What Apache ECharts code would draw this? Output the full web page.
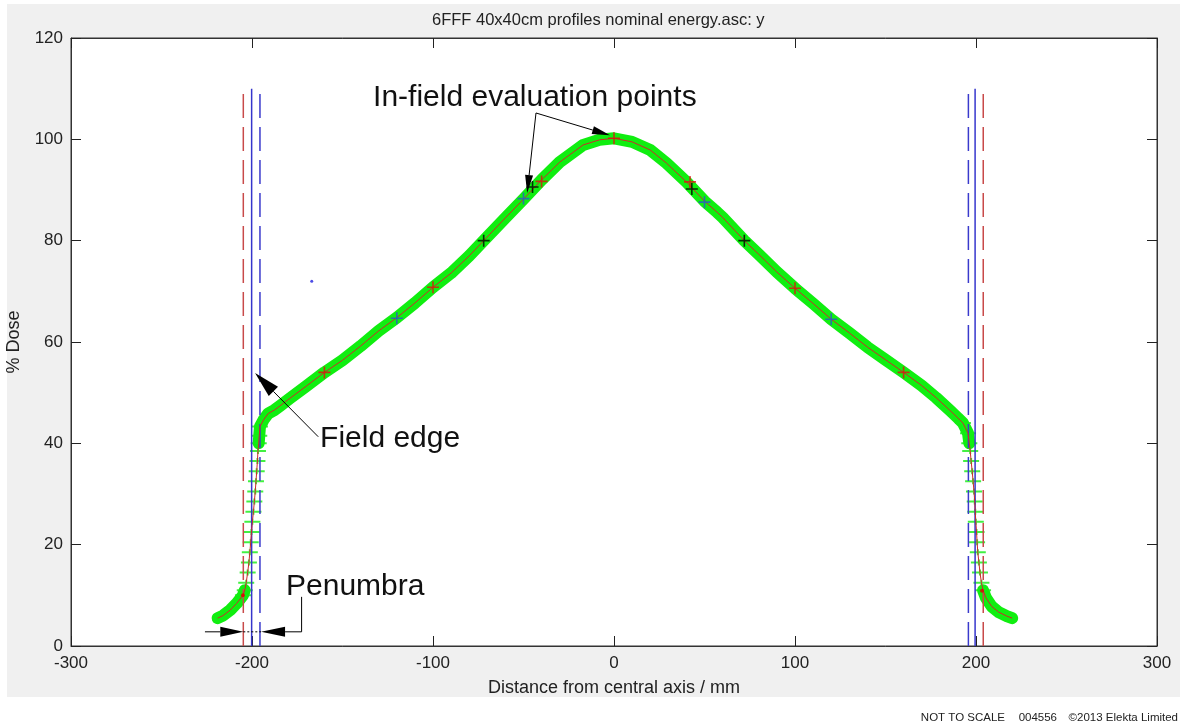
<!DOCTYPE html>
<html>
<head>
<meta charset="utf-8">
<title>6FFF 40x40cm profiles</title>
<script src="https://cdn.jsdelivr.net/npm/echarts@6/dist/echarts.min.js"></script>
<style>
  html, body { margin: 0; padding: 0; background: #fff; }
  #chart { width: 1180px; height: 727px; }
</style>
</head>
<body>
<div id="chart"></div>
<script>
const profileX = [-219, -216, -212, -208.5, -205, -204.0, -203.2, -202.4, -201.7, -201.2, -200.7, -200.3,
  -199.8, -199.2, -198.7, -198.2, -197.8, -197.4, -197.0, -196.7, -196.3, -196.0, -195.6, -193.5, -191,
  -187.5, -184.5, -179, -170, -160, -150, -140, -130, -120, -110, -100, -90, -80, -72, -60, -50, -40, -30,
  -17, -8, 0, 10, 20, 29, 40, 50, 57, 60, 72, 80, 90, 100, 110, 120, 130, 140, 150, 160, 170, 178, 185.6,
  190, 192.8, 195.6, 196.3, 196.8, 197.3, 197.9, 198.4, 198.9, 199.3, 199.6, 199.9, 200.3, 200.6, 201.0,
  201.6, 202.2, 203.0, 203.9, 205.5, 208.7, 212.5, 217, 220];
const profileY = [5.5, 6.0, 7.1, 8.4, 10.0, 11.0, 12.5, 14.5, 16.5, 18.5, 20.5, 22.5,
  24.5, 26.5, 28.5, 30.5, 32.5, 34.5, 36.5, 38.5, 40.0, 41.5, 43.3, 44.7, 45.9,
  46.6, 47.4, 48.9, 51.3, 54.0, 56.4, 59.2, 62.2, 64.8, 67.7, 70.8, 73.6, 77.0, 80.0, 84.5, 88.2, 92.0, 95.5,
  98.9, 99.9, 100.2, 99.5, 97.9, 95.3, 91.6, 87.8, 85.6, 84.6, 80.0, 77.3, 73.8, 70.6, 67.6, 64.5, 61.8, 59.0, 56.5, 54.0, 51.4, 49.0, 46.5,
  45.0, 44.0, 42.0, 40.0, 38.5, 36.5, 34.5, 32.5, 30.5, 28.5, 26.5, 24.5, 22.5, 20.5, 18.5,
  16.5, 14.5, 12.5, 11.0, 9.5, 7.8, 6.7, 5.9, 5.5];

// in-field evaluation points
const evalRedX = [-160, -100, -40, 0, 42, 100, 160];
const evalRedY = [54.0, 70.8, 91.7, 100.2, 91.6, 70.6, 54.0];
const evalBlueX = [-120, -50, 50, 120];
const evalBlueY = [64.7, 88.3, 87.6, 64.5];
const evalBlackX = [-72, -45, 43, 72];
const evalBlackY = [80.0, 90.6, 90.2, 80.0];
const edgeDotX = [-205, 203.3];
const edgeDotY = [10.0, 10.9];
const strayX = [-167];
const strayY = [72];

// field edge / penumbra limits (mm)
const redDashX = [-204.8, 204.0];
const blueDashX = [-195.6, 195.8];
const blueSolidX = [-200.2, 199.5];
const edgeLineTop = 110;

const xTicks = [-300, 300, 100];
const yTicks = [0, 120, 20];

const pts = profileX.map((x, i) => [x, profileY[i]]);
const zip = (xs, ys) => xs.map((x, i) => [x, ys[i]]);

const leftTail = pts.filter(p => p[0] < -200 && p[1] <= 11);
const mainBand = pts.filter(p => p[1] >= 40);
const rightTail = pts.filter(p => p[0] > 200 && p[1] <= 11);
const edgeMarks = pts.filter(p => p[1] >= 10 && p[1] <= 44.5 && Math.abs(p[0]) > 192);

const plus = 'path://M0,5.2h12v1.6h-12z M5.2,0h1.6v12h-1.6z';
const dash = 'path://M0,2h16v2h-16z M7,0h2v6h-2z';
const FONT = '"Liberation Sans", Arial, sans-serif';

const chart = echarts.init(document.getElementById('chart'));

function band(data) {
  return {
    type: 'line', data, symbol: 'none', silent: true, z: 2,
    lineStyle: { color: '#10ee10', width: 12, cap: 'round', join: 'round' }
  };
}
function vline(xs, color, type) {
  return xs.map(x => ({
    type: 'line', data: [[x, 0], [x, edgeLineTop]], symbol: 'none', silent: true, z: 4,
    lineStyle: { color, width: 1.5, type }
  }));
}
function marks(data, color, size) {
  return {
    type: 'scatter', data, symbol: plus, symbolSize: size || 12, silent: true, z: 6,
    itemStyle: { color }
  };
}

const axisCommon = {
  type: 'value',
  axisLine: { onZero: false, lineStyle: { color: '#333', width: 1 } },
  axisTick: { inside: true, length: 10, lineStyle: { color: '#222' } },
  splitLine: { show: false }
};

chart.setOption({
  backgroundColor: '#f0f0f0',
  animation: false,
  title: {
    text: '6FFF 40x40cm profiles nominal energy.asc: y',
    left: 427, top: 7,
    textStyle: { fontFamily: FONT, fontSize: 16.5, fontWeight: 'normal', color: '#222' }
  },
  grid: {
    left: 71, right: 23, top: 38, bottom: 81,
    outerBoundsMode: 'none', containLabel: false,
    show: true, backgroundColor: '#fff', borderColor: '#333', borderWidth: 1
  },
  xAxis: [
    Object.assign({}, axisCommon, {
      min: xTicks[0], max: xTicks[1], interval: xTicks[2], position: 'bottom',
      name: 'Distance from central axis / mm', nameLocation: 'middle', nameGap: 33, nameMoveOverlap: false,
      nameTextStyle: { fontFamily: FONT, fontSize: 18, color: '#222' },
      axisLabel: { fontFamily: FONT, fontSize: 17, color: '#222', margin: 9, showMinLabel: true, showMaxLabel: true }
    }),
    Object.assign({}, axisCommon, {
      min: xTicks[0], max: xTicks[1], interval: xTicks[2], position: 'top',
      axisLabel: { show: false }
    })
  ],
  yAxis: [
    Object.assign({}, axisCommon, {
      min: yTicks[0], max: yTicks[1], interval: yTicks[2], position: 'left',
      name: '% Dose', nameLocation: 'middle', nameGap: 48, nameMoveOverlap: false,
      nameTextStyle: { fontFamily: FONT, fontSize: 18, color: '#222' },
      axisLabel: { fontFamily: FONT, fontSize: 17, color: '#222', margin: 8, showMinLabel: true, showMaxLabel: true }
    }),
    Object.assign({}, axisCommon, {
      min: yTicks[0], max: yTicks[1], interval: yTicks[2], position: 'right',
      axisLabel: { show: false }
    })
  ],
  series: [
    band(leftTail), band(mainBand), band(rightTail),
    {
      type: 'scatter', data: edgeMarks, symbol: dash, symbolSize: [16, 6], silent: true, z: 3,
      itemStyle: { color: '#14ec14' }
    },
    {
      type: 'line', data: pts, symbol: 'none', silent: true, z: 5,
      lineStyle: { color: '#cc2a2a', width: 1 }
    },
    ...vline(redDashX, '#c84a4a', [24, 9]),
    ...vline(blueDashX, '#3a3acc', [24, 9]),
    ...vline(blueSolidX, '#3636cc', 'solid'),
    marks(zip(evalRedX, evalRedY), '#e01010'),
    marks(zip(evalBlueX, evalBlueY), '#2a58c8'),
    marks(zip(evalBlackX, evalBlackY), '#000'),
    {
      type: 'scatter', data: zip(edgeDotX, edgeDotY), symbolSize: 4, silent: true, z: 6,
      itemStyle: { color: '#e00000' }
    },
    {
      type: 'scatter', data: zip(strayX, strayY), symbolSize: 3, silent: true, z: 6,
      itemStyle: { color: '#2020e0' }
    }
  ]
});

// annotations, placed in data coordinates
const notes = [
  { text: 'In-field evaluation points', at: [-133.1, 108.3] },
  { text: 'Field edge', at: [-162.4, 41.0] },
  { text: 'Penumbra', at: [-181.2, 11.7] }
];
const arrows = [
  { from: [-43.1, 105.2], to: [-48.0, 89.4], w: 8, len: 18 },
  { from: [-43.1, 105.2], to: [-2.2, 100.8], w: 8, len: 18 },
  { from: [-163.4, 41.3], to: [-198.3, 53.9], w: 13, len: 26 },
  { from: [-226, 2.8], to: [-204.8, 2.8], w: 10, len: 23 },
  { from: [-172.6, 2.8], to: [-195.0, 2.8], w: 10, len: 24 }
];
const penumbraLeg = [[-172.6, 9.7], [-172.6, 2.8]];
const penumbraGap = [[-204.8, 2.8], [-195.0, 2.8]];

const px = p => chart.convertToPixel({ gridIndex: 0 }, p);
const g = [];

g.push({ type: 'rect', shape: { x: 0, y: 697, width: 1180, height: 30 }, style: { fill: '#fff' }, silent: true });
g.push({ type: 'rect', shape: { x: 0, y: 0, width: 7, height: 697 }, style: { fill: '#fff' }, silent: true });
g.push({ type: 'rect', shape: { x: 0, y: 0, width: 1180, height: 4 }, style: { fill: '#fff' }, silent: true });

arrows.forEach(a => {
  const f = px(a.from), t = px(a.to);
  const dx = t[0] - f[0], dy = t[1] - f[1];
  const d = Math.hypot(dx, dy), ux = dx / d, uy = dy / d;
  const bx = t[0] - ux * a.len, by = t[1] - uy * a.len;
  g.push({ type: 'line', shape: { x1: f[0], y1: f[1], x2: bx, y2: by }, style: { stroke: '#000', lineWidth: 1 }, z: 20 });
  g.push({
    type: 'polygon', z: 20,
    shape: { points: [t, [bx - uy * a.w / 2, by + ux * a.w / 2], [bx + uy * a.w / 2, by - ux * a.w / 2]] },
    style: { fill: '#000' }
  });
});
g.push({ type: 'polyline', z: 20, shape: { points: penumbraLeg.map(px) }, style: { stroke: '#000', lineWidth: 1, fill: null } });
g.push({ type: 'polyline', z: 20, shape: { points: penumbraGap.map(px) }, style: { stroke: '#000', lineWidth: 1, lineDash: [2, 2], fill: null } });

notes.forEach(n => {
  const p = px(n.at);
  g.push({
    type: 'text', x: p[0], y: p[1], z: 21,
    style: { text: n.text, font: '30px ' + FONT, fill: '#111', align: 'left', verticalAlign: 'middle' }
  });
});

// footer
const footer = [['NOT TO SCALE', 1005], ['004556', 1057], ['\u00a92013 Elekta Limited', 1178]];
footer.forEach(f => {
  g.push({
    type: 'text', x: f[1], y: 718, z: 21,
    style: { text: f[0], font: '11.5px ' + FONT, fill: '#222', align: 'right', verticalAlign: 'middle' }
  });
});

chart.setOption({ graphic: g });
</script>
</body>
</html>
